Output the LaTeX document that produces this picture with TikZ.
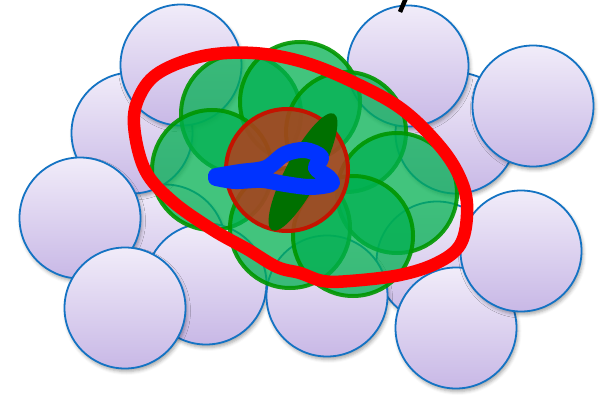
\documentclass[tikz,border=0pt]{standalone}
\usetikzlibrary{shapes.geometric,shadows.blur}
\definecolor{lavtop}{RGB}{241,236,249}
\definecolor{lavbot}{RGB}{200,184,230}
\definecolor{lavline}{RGB}{20,115,195}
\definecolor{grnfill}{RGB}{0,176,80}
\definecolor{grnline}{RGB}{0,150,0}
\definecolor{brnfill}{RGB}{178,62,28}
\definecolor{brnline}{RGB}{195,20,0}
\definecolor{leafgreen}{RGB}{0,112,0}
\definecolor{inkblue}{RGB}{0,51,255}
\definecolor{inkred}{RGB}{255,0,0}
\begin{document}
\begin{tikzpicture}[x=1pt,y=-1pt,
  bead/.style={circle,inner sep=0pt,minimum size=121pt,line width=1.8pt,
    draw=lavline,top color=lavtop,bottom color=lavbot,
    blur shadow={shadow xshift=1.5pt,shadow yshift=-3pt,
      shadow blur radius=3.5pt,shadow opacity=35}},
  gbead/.style={circle,inner sep=0pt,minimum size=120pt,line width=4pt,
    draw=grnline,fill=grnfill,fill opacity=0.74,draw opacity=0.9},
  core/.style={circle,inner sep=0pt,minimum size=122pt,line width=4pt,
    draw=brnline,fill=brnfill,fill opacity=0.85},
  leaf/.style={ellipse,inner sep=0pt,minimum width=132pt,minimum height=34pt,
    fill=leafgreen},
  loop/.style={line width=12.5pt,draw=inkred,line join=round},
  scribble/.style={line width=16pt,draw=inkblue,line cap=round,line join=round}]

\useasboundingbox (0,0) rectangle (604,395);

% background layer of lavender beads, back to front
\node[bead] (h1) at (165,245) {};
\node[bead] (l12) at (437,262) {};
\node[bead] (l11) at (456,133) {};
\node[bead] (l4) at (132,133) {};
\node[bead] (l1) at (181,65) {};
\node[bead] (l2) at (408,66) {};
\node[bead] (l3) at (533,106) {};
\node[bead] (l5) at (80,218) {};
\node[bead] (l7) at (206,284) {};
\node[bead] (l8) at (327,296) {};
\node[bead] (l9) at (456,328) {};
\node[bead] (l10) at (521,251) {};
\node[bead] (l6) at (125,308) {};

% translucent green cluster
\node[gbead] (g1) at (241,114) {};
\node[gbead] (g2) at (300,102) {};
\node[gbead] (g3) at (346,132) {};
\node[gbead] (g4) at (212,170) {};
\node[gbead] (g5) at (397,193) {};
\node[gbead] (g7) at (290,228) {};
\node[gbead] (g6) at (353,236) {};

% central bead
\node[core] (c) at (287,170) {};

% outline around the cluster
\draw[loop] plot[smooth cycle,tension=0.6] coordinates {
  (134,125) (140,95) (160,72) (203,56) (253,53) (303,62) (353,82)
  (403,110) (443,150) (463,185) (467,215) (460,245) (437,263)
  (400,275) (350,281) (323,281) (300,273) (277,267) (247,249)
  (213,230) (172,201) (145,170)};

% dark green leaf across the core
\node[leaf,rotate=62] (lf) at (303,172) {};

% blue scribble
\draw[scribble] plot[smooth,tension=0.55] coordinates {
  (216,176) (240,172) (266,168) (285,154) (305,150) (321,157)
  (316,168) (328,177) (331,184) (310,187) (285,184) (262,180)
  (235,181) (216,178)};

% stroke entering from the top edge
\coordinate (s1) at (406,-2);
\coordinate (s2) at (400,12);
\draw[line width=4.5pt] (s1) -- (s2);
\end{tikzpicture}
\end{document}
